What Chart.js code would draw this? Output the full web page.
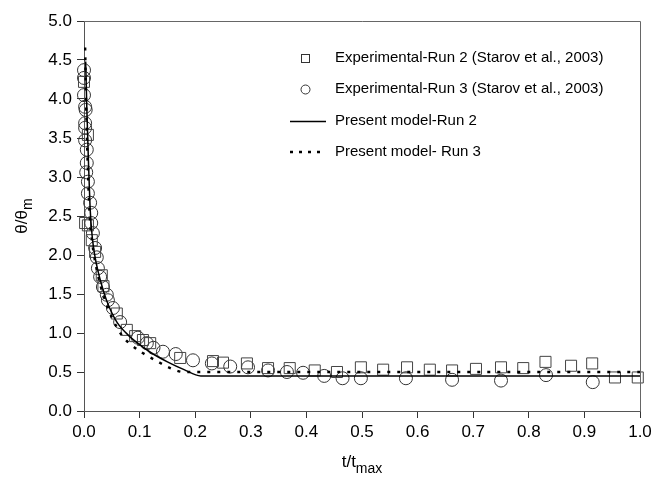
<!DOCTYPE html>
<html>
<head>
<meta charset="utf-8">
<script src="https://cdn.jsdelivr.net/npm/chart.js@4"></script>
<style>
  html, body { margin: 0; padding: 0; background: #fff; }
  #wrap { width: 652px; height: 480px; }
</style>
</head>
<body>
<div id="wrap"><canvas id="chart" width="652" height="480"></canvas></div>
<script>
// ==========================
// Data
// ==========================
const seriesLabels = [
  'Experimental-Run 2 (Starov et al., 2003)',
  'Experimental-Run 3 (Starov et al., 2003)',
  'Present model-Run 2',
  'Present model- Run 3'
];

// Experimental Run 2 (squares)
const run2X = [0.0, 0.002, 0.007, 0.007, 0.014, 0.02, 0.032, 0.035, 0.059, 0.077, 0.092, 0.106, 0.119,
  0.173, 0.232, 0.25, 0.293, 0.331, 0.37, 0.415, 0.455, 0.498, 0.538, 0.581, 0.622, 0.662, 0.705,
  0.75, 0.79, 0.83, 0.876, 0.914, 0.955, 0.996];
const run2Y = [4.22, 2.41, 3.54, 2.38, 2.19, 2.04, 1.74, 1.6, 1.25, 1.04, 0.96, 0.91, 0.87,
  0.68, 0.64, 0.62, 0.61, 0.55, 0.55, 0.52, 0.5, 0.56, 0.53, 0.56, 0.53, 0.52, 0.54,
  0.56, 0.55, 0.63, 0.58, 0.61, 0.43, 0.43];

// Experimental Run 3 (circles)
const run3X = [0.0, 0.0, 0.0, 0.002, 0.003, 0.002, 0.002, 0.002, 0.005, 0.005, 0.004, 0.007, 0.007,
  0.011, 0.013, 0.013, 0.016, 0.02, 0.023, 0.025, 0.029, 0.034, 0.041, 0.043, 0.052, 0.065,
  0.097, 0.113, 0.125, 0.142, 0.165, 0.196, 0.23, 0.263, 0.295, 0.331, 0.365, 0.394, 0.432,
  0.465, 0.498, 0.579, 0.662, 0.75, 0.831, 0.915];
const run3Y = [4.37, 4.27, 4.05, 3.9, 3.86, 3.69, 3.63, 3.47, 3.35, 3.18, 3.06, 2.94, 2.79,
  2.67, 2.54, 2.41, 2.28, 2.09, 1.97, 1.83, 1.72, 1.59, 1.49, 1.42, 1.32, 1.14,
  0.94, 0.87, 0.81, 0.76, 0.73, 0.65, 0.61, 0.57, 0.56, 0.52, 0.5, 0.49, 0.45,
  0.42, 0.42, 0.42, 0.40, 0.39, 0.46, 0.37];

// Present model Run 2 (solid)
const model2X = [0.003, 0.005, 0.008, 0.011, 0.015, 0.02, 0.03, 0.04, 0.05, 0.06, 0.08, 0.1, 0.12, 0.15, 0.18, 0.21, 1.0];
const model2Y = [4.48, 3.9, 3.2, 2.6, 2.22, 1.97, 1.66, 1.43, 1.26, 1.13, 0.97, 0.85, 0.75, 0.63, 0.53, 0.45, 0.45];

// Present model Run 3 (dotted)
const model3X = [0.002, 0.004, 0.007, 0.01, 0.015, 0.02, 0.03, 0.04, 0.05, 0.07, 0.083, 0.104, 0.131, 0.155, 0.18, 1.0];
const model3Y = [4.66, 3.9, 3.1, 2.55, 2.15, 1.92, 1.6, 1.38, 1.2, 0.95, 0.86, 0.75, 0.64, 0.55, 0.5, 0.5];

const xTicks = [0, 0.1, 0.2, 0.3, 0.4, 0.5, 0.6, 0.7, 0.8, 0.9, 1.0];

function toPoints(xs, ys) {
  return xs.map((x, i) => ({ x: x, y: ys[i] }));
}

// ==========================
// Plot frame, axis titles & legend
// ==========================
const FONT = "'Liberation Sans', Arial, sans-serif";

const decorPlugin = {
  id: 'decor',
  afterDraw(chart) {
    const ctx = chart.ctx;
    const a = chart.chartArea;
    ctx.save();

    // top / right frame
    ctx.strokeStyle = '#666';
    ctx.lineWidth = 1;
    ctx.beginPath();
    ctx.moveTo(a.left, a.top + 0.5);
    ctx.lineTo(a.right + 0.5, a.top + 0.5);
    ctx.lineTo(a.right + 0.5, a.bottom);
    ctx.stroke();

    // x axis title: t/t_max
    ctx.fillStyle = '#000';
    ctx.textBaseline = 'alphabetic';
    ctx.font = '17px ' + FONT;
    const main = 't/t';
    const sub = 'max';
    const wMain = ctx.measureText(main).width;
    ctx.font = '14px ' + FONT;
    const wSub = ctx.measureText(sub).width;
    let x0 = 362 - (wMain + wSub) / 2;
    ctx.font = '17px ' + FONT;
    ctx.fillText(main, x0, 467);
    ctx.font = '14px ' + FONT;
    ctx.fillText(sub, x0 + wMain, 473);

    // y axis title: θ/θ_m (rotated)
    ctx.translate(27, 216);
    ctx.rotate(-Math.PI / 2);
    ctx.font = '17px ' + FONT;
    const yMain = '\u03b8/\u03b8';
    const yw = ctx.measureText(yMain).width;
    ctx.font = '14px ' + FONT;
    const ysw = ctx.measureText('m').width;
    const y0 = -(yw + ysw) / 2;
    ctx.font = '17px ' + FONT;
    ctx.fillText(yMain, y0, 0);
    ctx.font = '14px ' + FONT;
    ctx.fillText('m', y0 + yw, 5);
    ctx.setTransform(1, 0, 0, 1, 0, 0);

    // legend
    const rows = [58, 89, 121, 152];
    ctx.font = '15px ' + FONT;
    ctx.textBaseline = 'middle';
    ctx.strokeStyle = '#333';
    ctx.lineWidth = 1;
    // square
    ctx.strokeRect(301.5, 54.5, 8, 8);
    // circle
    ctx.beginPath();
    ctx.arc(305.5, 89.5, 4.5, 0, Math.PI * 2);
    ctx.stroke();
    // solid line
    ctx.strokeStyle = '#000';
    ctx.lineWidth = 1.3;
    ctx.beginPath();
    ctx.moveTo(290, 121.5);
    ctx.lineTo(326, 121.5);
    ctx.stroke();
    // dotted line
    ctx.lineWidth = 2.5;
    ctx.setLineDash([3, 6]);
    ctx.beginPath();
    ctx.moveTo(290, 152);
    ctx.lineTo(326, 152);
    ctx.stroke();
    ctx.setLineDash([]);
    ctx.fillStyle = '#000';
    seriesLabels.forEach((lab, i) => ctx.fillText(lab, 335, rows[i]));

    ctx.restore();
  }
};

// ==========================
// Chart
// ==========================
const chart = new Chart(document.getElementById('chart').getContext('2d'), {
  type: 'scatter',
  data: {
    datasets: [
      {
        label: seriesLabels[0],
        data: toPoints(run2X, run2Y),
        pointStyle: 'rect',
        pointRadius: 7.8,
        pointBorderColor: '#444',
        pointBorderWidth: 1,
        pointBackgroundColor: 'rgba(255,255,255,0)',
        showLine: false,
        clip: false,
        order: 3
      },
      {
        label: seriesLabels[1],
        data: toPoints(run3X, run3Y),
        pointStyle: 'circle',
        pointRadius: 6.5,
        pointBorderColor: '#333',
        pointBorderWidth: 1,
        pointBackgroundColor: 'rgba(255,255,255,0)',
        showLine: false,
        clip: false,
        order: 4
      },
      {
        label: seriesLabels[2],
        data: toPoints(model2X, model2Y),
        showLine: true,
        borderColor: '#000',
        borderWidth: 1.5,
        pointRadius: 0,
        cubicInterpolationMode: 'monotone',
        order: 1
      },
      {
        label: seriesLabels[3],
        data: toPoints(model3X, model3Y),
        showLine: true,
        borderColor: '#000',
        borderWidth: 2.5,
        borderDash: [3, 7],
        pointRadius: 0,
        cubicInterpolationMode: 'monotone',
        order: 2
      }
    ]
  },
  options: {
    responsive: false,
    animation: false,
    layout: { padding: { top: 21, right: 12, left: 0, bottom: 0 } },
    plugins: {
      legend: { display: false },
      tooltip: { enabled: false }
    },
    scales: {
      x: {
        type: 'linear',
        min: 0,
        max: 1,
        afterBuildTicks(scale) {
          scale.ticks = xTicks.map(v => ({ value: v }));
        },
        afterFit(scale) {
          scale.height = 69;
          scale.paddingLeft = 0;
          scale.paddingRight = 0;
        },
        grid: { drawOnChartArea: false, drawTicks: true, tickLength: 7, color: '#333' },
        border: { display: true, color: '#555', width: 1 },
        ticks: {
          color: '#000',
          font: { family: FONT, size: 17 },
          padding: 4,
          maxRotation: 0,
          callback: v => Number(v).toFixed(1)
        }
      },
      y: {
        type: 'linear',
        min: 0,
        max: 5,
        afterFit(scale) {
          scale.width = 84;
          scale.paddingTop = 0;
          scale.paddingBottom = 0;
        },
        grid: { drawOnChartArea: false, drawTicks: true, tickLength: 7, color: '#333' },
        border: { display: true, color: '#555', width: 1 },
        ticks: {
          stepSize: 0.5,
          color: '#000',
          font: { family: FONT, size: 17 },
          padding: 5,
          callback: v => Number(v).toFixed(1)
        }
      }
    }
  },
  plugins: [decorPlugin]
});
</script>
</body>
</html>
